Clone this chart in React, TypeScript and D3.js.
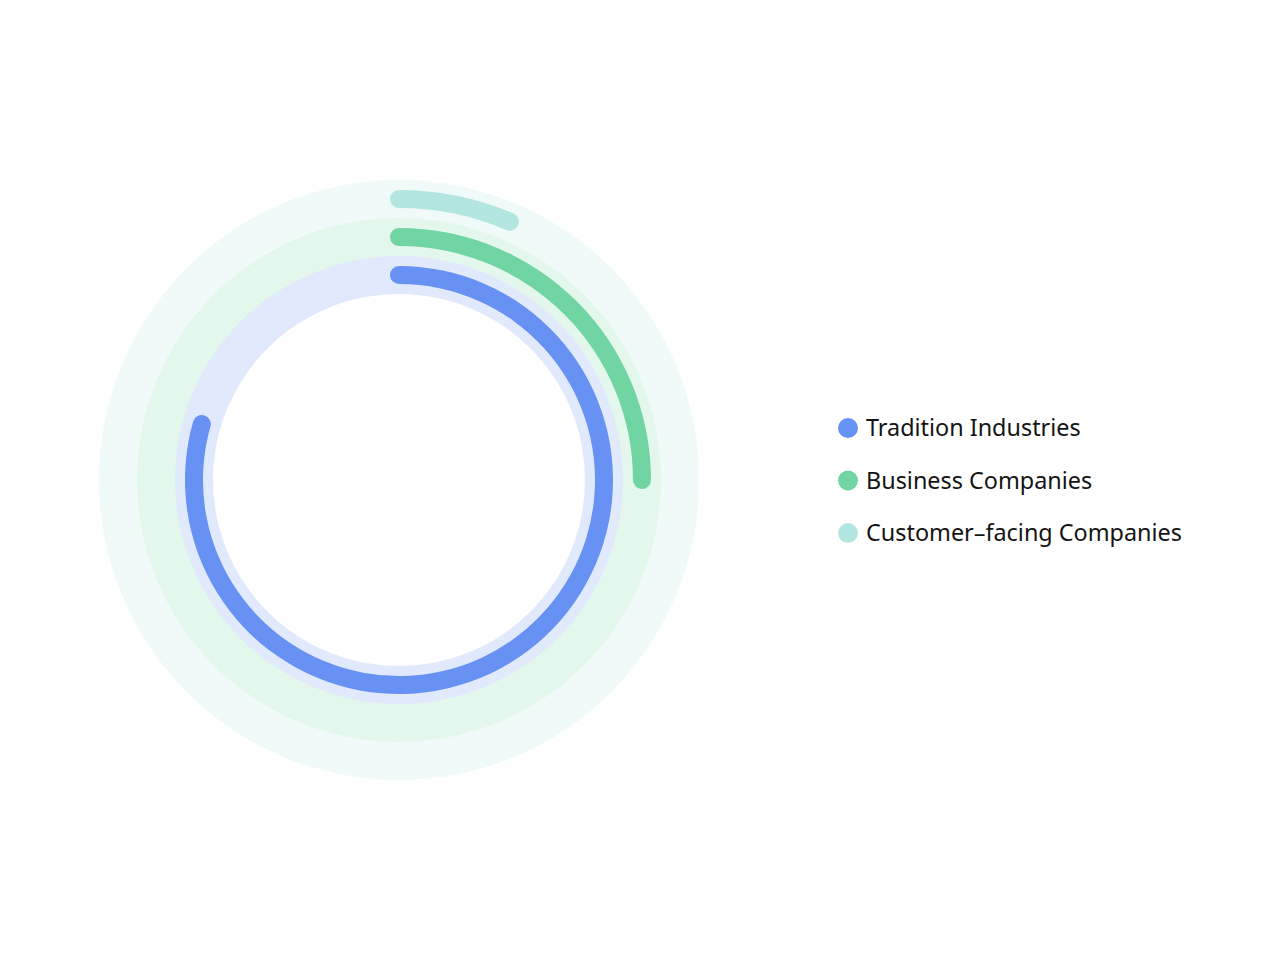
import { useEffect, useRef } from "react";
import * as d3 from "d3";

const categories = ["Tradition Industries", "Business Companies", "Customer-facing Companies"];
const values = [79.4, 25, 6.45];
const maxValue = 100;
const colors = ["#6891F4", "#71D5A3", "#B3E6E1"];

export default function App() {
  const svgRef = useRef<SVGSVGElement | null>(null);

  useEffect(() => {
    const svg = d3.select(svgRef.current);
    svg.selectAll("*").remove();

    const width = 1280, height = 960;
    const cx = 399, cy = 480;
    const barWidth = 18;

    // rings from the inside out, same order as the categories
    const r = d3.scaleBand<string>().domain(categories).range([186, 300]);
    const angle = d3.scaleLinear().domain([0, maxValue]).range([0, 2 * Math.PI]);
    const mid = (i: number) => r(categories[i])! + r.bandwidth() / 2;

    const g = svg.append("g").attr("transform", `translate(${cx},${cy})`);

    const band = d3.arc<string>()
      .innerRadius(d => r(d)!)
      .outerRadius(d => r(d)! + r.bandwidth())
      .startAngle(0)
      .endAngle(2 * Math.PI);

    g.selectAll(".bg").data(categories).enter().append("path")
      .attr("class", "bg")
      .attr("d", d => band(d))
      .attr("fill", (d, i) => colors[i])
      .attr("fill-opacity", 0.2);

    // bars: arcs with round caps that stick out past the start and end
    const bar = d3.arc<number>()
      .innerRadius((d, i) => mid(i) - barWidth / 2)
      .outerRadius((d, i) => mid(i) + barWidth / 2)
      .startAngle((d, i) => -(barWidth / 2) / mid(i))
      .endAngle((d, i) => angle(d) + (barWidth / 2) / mid(i))
      .cornerRadius(barWidth / 2);

    g.selectAll(".bar").data(values).enter().append("path")
      .attr("class", "bar")
      .attr("d", (d, i) => bar(d, i))
      .attr("fill", (d, i) => colors[i]);

    // legend
    const legend = svg.append("g").attr("transform", "translate(848,428)");
    const item = legend.selectAll(".item").data(categories).enter().append("g")
      .attr("class", "item")
      .attr("transform", (d, i) => `translate(0,${i * 52.5})`);
    item.append("circle").attr("r", 10).attr("fill", (d, i) => colors[i]);
    item.append("text")
      .attr("x", 18).attr("y", 0).attr("dy", "0.36em")
      .style("font-family", "'Noto Sans', sans-serif")
      .style("font-size", "23.4px")
      .attr("fill", "#141414")
      .text(d => d.replace("-", "\u2013"));

    svg.attr("width", width).attr("height", height);
  }, []);

  return (
    <div style={{ position: "absolute", left: 0, top: 0, background: "#fff" }}>
      <svg ref={svgRef} width={1280} height={960} style={{ display: "block" }} />
    </div>
  );
}
